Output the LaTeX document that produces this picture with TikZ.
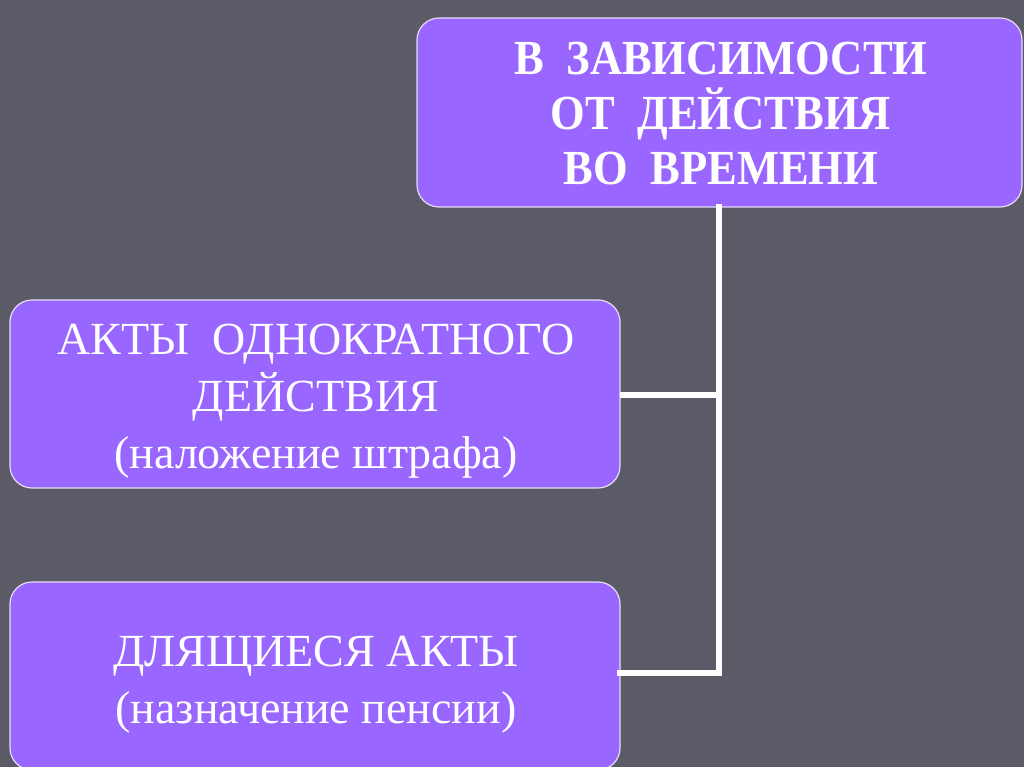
\documentclass[tikz,border=0pt]{standalone}
\usepackage{fontspec}
\setmainfont{Liberation Serif}
\newfontfamily\condbold[FakeStretch=0.91]{Liberation Serif Bold}
\definecolor{bg}{HTML}{5A5B66}
\definecolor{boxfill}{HTML}{9966FF}
\definecolor{boxline}{HTML}{E6DDF5}
\begin{document}
\begin{tikzpicture}[x=1pt,y=-1pt,
  box/.style={draw=boxline, line width=1.2pt, fill=boxfill, rounded corners=22pt},
  txt/.style={text=white, align=center, inner sep=0pt},
  link/.style={draw=white, line width=6pt}]
\fill[bg] (0,0) rectangle (1024,767);
\useasboundingbox (0,0) rectangle (1024,767);
% boxes
\path[box] (417,18) rectangle (1022,207);
\path[box] (10,300) rectangle (620,488);
\path[box] (10,582) rectangle (620,770);
\coordinate (topb) at (719,207);
\coordinate (midr) at (620,395);
\coordinate (botr) at (620,673);
\coordinate (j1) at (719,395);
\coordinate (j2) at (719,673);
\node[txt, font=\condbold\fontsize{49}{55}\selectfont] (t) at (721,114)
  {В~ ЗАВИСИМОСТИ\\ОТ~ ДЕЙСТВИЯ\\ВО~ ВРЕМЕНИ};
\node[txt, font=\fontsize{46}{57}\selectfont] (m) at (316,401)
  {АКТЫ~ ОДНОКРАТНОГО\\ДЕЙСТВИЯ\\(наложение штрафа)};
\node[txt, font=\fontsize{46}{57}\selectfont] (b) at (316,685)
  {ДЛЯЩИЕСЯ АКТЫ\\(назначение пенсии)};
\draw[link, line cap=rect] (topb) -- (j2);
\draw[link] (midr) -- (j1);
\draw[link, line cap=rect] (botr) -- (j2);
\end{tikzpicture}
\end{document}
